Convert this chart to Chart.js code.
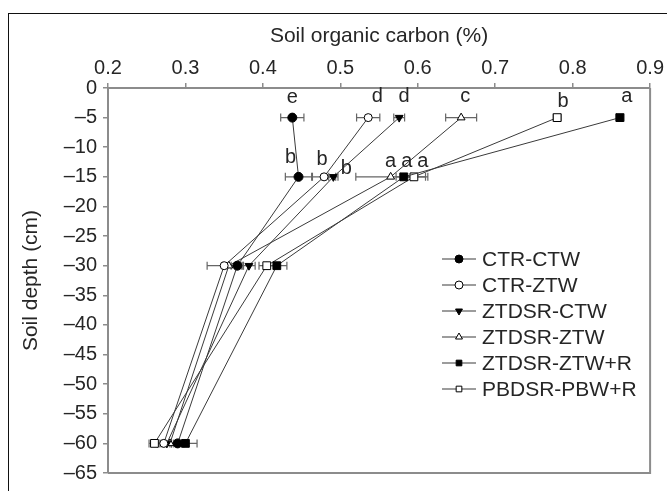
<!DOCTYPE html>
<html>
<head>
<meta charset="utf-8">
<title>Soil organic carbon by depth</title>
<script src="https://cdn.jsdelivr.net/npm/chart.js@4/dist/chart.umd.min.js"></script>
<style>
  html, body { margin: 0; padding: 0; background: #fff; overflow: hidden; }
  #wrap { position: relative; width: 667px; height: 491px; }
  #frame { position: absolute; left: 8px; top: 13px; width: 700px; height: 500px; border: 1px solid #111; }
  #socChart { position: absolute; left: 0; top: 0; }
</style>
</head>
<body>
<div id="wrap">
  <div id="frame"></div>
  <canvas id="socChart" width="667" height="491"></canvas>
</div>
<script>
// sampling depths (cm)
const depths = [-5, -15, -30, -60];

const treatments = ['CTR-CTW', 'CTR-ZTW', 'ZTDSR-CTW', 'ZTDSR-ZTW', 'ZTDSR-ZTW+R', 'PBDSR-PBW+R'];

// soil organic carbon (%) at each depth
const ctrCtw = [0.438, 0.446, 0.367, 0.290];
const ctrZtw = [0.536, 0.479, 0.350, 0.272];
const ztdsrCtw = [0.576, 0.491, 0.382, 0.276];
const ztdsrZtw = [0.656, 0.565, 0.356, 0.280];
const ztdsrZtwR = [0.861, 0.582, 0.418, 0.300];
const pbdsrPbwR = [0.780, 0.595, 0.405, 0.260];

// standard errors
const seCtrCtw = [0.015, 0.017, 0.008, 0.008];
const seCtrZtw = [0.015, 0.015, 0.022, 0.008];
const seZtdsrCtw = [0.007, 0.006, 0.008, 0.006];
const seZtdsrZtw = [0.020, 0.045, 0.008, 0.008];
const seZtdsrZtwR = [0.005, 0.010, 0.013, 0.015];
const sePbdsrPbwR = [0.005, 0.018, 0.010, 0.007];

// significance letters (per depth)
const sigCtrCtw = ['e', 'b', '', ''];
const sigCtrZtw = ['d', 'b', '', ''];
const sigZtdsrCtw = ['d', 'b', '', ''];
const sigZtdsrZtw = ['c', 'a', '', ''];
const sigZtdsrZtwR = ['a', 'a', '', ''];
const sigPbdsrPbwR = ['b', 'a', '', ''];

const xTicks = [0.2, 0.3, 0.4, 0.5, 0.6, 0.7, 0.8, 0.9];

const TEXT = '#262626';
const AXIS = '#8c8c8c';
const FONT = '"Liberation Sans", Arial, Helvetica, sans-serif';

const series = [
  { values: ctrCtw, se: seCtrCtw, sig: sigCtrCtw, style: 'circle', fill: '#000', radius: 4.5, rotation: 0 },
  { values: ctrZtw, se: seCtrZtw, sig: sigCtrZtw, style: 'circle', fill: '#fff', radius: 4, rotation: 0 },
  { values: ztdsrCtw, se: seZtdsrCtw, sig: sigZtdsrCtw, style: 'triangle', fill: '#000', radius: 4.5, rotation: 180 },
  { values: ztdsrZtw, se: seZtdsrZtw, sig: sigZtdsrZtw, style: 'triangle', fill: '#fff', radius: 4.5, rotation: 0 },
  { values: ztdsrZtwR, se: seZtdsrZtwR, sig: sigZtdsrZtwR, style: 'rect', fill: '#000', radius: 5.5, rotation: 0 },
  { values: pbdsrPbwR, se: sePbdsrPbwR, sig: sigPbdsrPbwR, style: 'rect', fill: '#fff', radius: 5.5, rotation: 0 }
];

// where each letter sits relative to its point, [dx, dy] per depth
const letterOffsets = [
  [[0, -20], [-8, -19]],
  [[9, -21], [-2, -17]],
  [[5, -21], [13, -8]],
  [[4, -21], [0, -15]],
  [[7, -21], [3, -15]],
  [[6, -16], [9, -15]]
];

const datasets = series.map((s, i) => ({
  label: treatments[i],
  data: s.values.map((v, j) => ({ x: v, y: depths[j] })),
  showLine: true,
  borderColor: '#3a3a3a',
  borderWidth: 1,
  pointStyle: s.style,
  pointRadius: s.radius,
  pointRotation: s.rotation,
  pointBackgroundColor: s.fill,
  pointBorderColor: '#000',
  pointBorderWidth: 1,
  se: s.se,
  sig: s.sig
}));

// right and bottom edges of the plot box
const plotFrame = {
  id: 'plotFrame',
  beforeDatasetsDraw(chart) {
    const { ctx, chartArea: a } = chart;
    ctx.save();
    ctx.strokeStyle = AXIS;
    ctx.lineWidth = 2;
    ctx.beginPath();
    ctx.moveTo(a.right, a.top);
    ctx.lineTo(a.right, a.bottom);
    ctx.lineTo(a.left, a.bottom);
    ctx.stroke();
    ctx.restore();
  }
};

const errorBars = {
  id: 'errorBars',
  beforeDatasetsDraw(chart) {
    const { ctx } = chart;
    const xs = chart.scales.x, ys = chart.scales.y;
    ctx.save();
    ctx.strokeStyle = '#666';
    ctx.lineWidth = 1.2;
    chart.data.datasets.forEach((ds) => {
      ds.data.forEach((p, i) => {
        const e = ds.se[i];
        const x1 = xs.getPixelForValue(p.x - e);
        const x2 = xs.getPixelForValue(p.x + e);
        const y = ys.getPixelForValue(p.y);
        ctx.beginPath();
        ctx.moveTo(x1, y); ctx.lineTo(x2, y);
        ctx.moveTo(x1, y - 4); ctx.lineTo(x1, y + 4);
        ctx.moveTo(x2, y - 4); ctx.lineTo(x2, y + 4);
        ctx.stroke();
      });
    });
    ctx.restore();
  }
};

const sigLetters = {
  id: 'sigLetters',
  afterDatasetsDraw(chart) {
    const { ctx } = chart;
    ctx.save();
    ctx.fillStyle = TEXT;
    ctx.font = '20px ' + FONT;
    ctx.textAlign = 'center';
    ctx.textBaseline = 'middle';
    chart.data.datasets.forEach((ds, d) => {
      const meta = chart.getDatasetMeta(d);
      ds.sig.forEach((letter, i) => {
        if (!letter) return;
        const pt = meta.data[i];
        const off = letterOffsets[d][i];
        ctx.fillText(letter, pt.x + off[0], pt.y + off[1]);
      });
    });
    ctx.restore();
  }
};

// legend with a short line through each marker
const lineLegend = {
  id: 'lineLegend',
  afterDraw(chart) {
    const { ctx } = chart;
    const left = 442, top = 259, rowH = 26, lineW = 34;
    ctx.save();
    ctx.font = '21px ' + FONT;
    ctx.textBaseline = 'middle';
    chart.data.datasets.forEach((ds, i) => {
      const y = top + i * rowH;
      ctx.strokeStyle = '#3a3a3a';
      ctx.lineWidth = 1.2;
      ctx.beginPath();
      ctx.moveTo(left, y);
      ctx.lineTo(left + lineW, y);
      ctx.stroke();
      ctx.fillStyle = ds.pointBackgroundColor;
      ctx.strokeStyle = '#000';
      ctx.lineWidth = 1;
      Chart.helpers.drawPoint(ctx, {
        pointStyle: ds.pointStyle,
        radius: Math.min(ds.pointRadius, 4),
        rotation: ds.pointRotation,
        borderWidth: 1
      }, left + lineW / 2, y);
      ctx.fillStyle = TEXT;
      ctx.fillText(ds.label, left + lineW + 6, y + 1);
    });
    ctx.restore();
  }
};

Chart.defaults.font.family = FONT;
Chart.defaults.color = TEXT;

new Chart(document.getElementById('socChart'), {
  type: 'scatter',
  data: { datasets: datasets },
  options: {
    responsive: false,
    animation: false,
    layout: { padding: { left: 0, top: 0, right: 13, bottom: 5 } },
    plugins: {
      legend: { display: false },
      tooltip: { enabled: false }
    },
    scales: {
      x: {
        type: 'linear',
        position: 'top',
        min: 0.2,
        max: 0.9,
        afterBuildTicks: (scale) => { scale.ticks = xTicks.map((v) => ({ value: v })); },
        afterFit: (scale) => { scale.height = 88; },
        ticks: {
          callback: (v) => v.toFixed(1),
          font: { size: 20 },
          padding: 3,
          maxRotation: 0,
          color: TEXT
        },
        grid: { drawOnChartArea: false, drawTicks: true, tickLength: 5, color: AXIS, lineWidth: 1.5 },
        border: { color: AXIS, width: 2 },
        title: {
          display: true,
          text: 'Soil organic carbon (%)',
          font: { size: 21 },
          padding: { top: 24, bottom: 0 },
          color: TEXT
        }
      },
      y: {
        type: 'linear',
        position: 'left',
        min: -65,
        max: 0,
        afterFit: (scale) => { scale.width = 108; },
        ticks: {
          stepSize: 5,
          callback: (v) => (v < 0 ? '\u2013' + (-v) : String(v)),
          font: { size: 20 },
          padding: 6,
          color: TEXT
        },
        grid: { drawOnChartArea: false, drawTicks: true, tickLength: 5, color: AXIS, lineWidth: 1.5 },
        border: { color: AXIS, width: 2 },
        title: {
          display: true,
          text: 'Soil depth (cm)',
          font: { size: 21 },
          padding: { top: 19, bottom: 0 },
          color: TEXT
        }
      }
    }
  },
  plugins: [plotFrame, errorBars, sigLetters, lineLegend]
});
</script>
</body>
</html>
